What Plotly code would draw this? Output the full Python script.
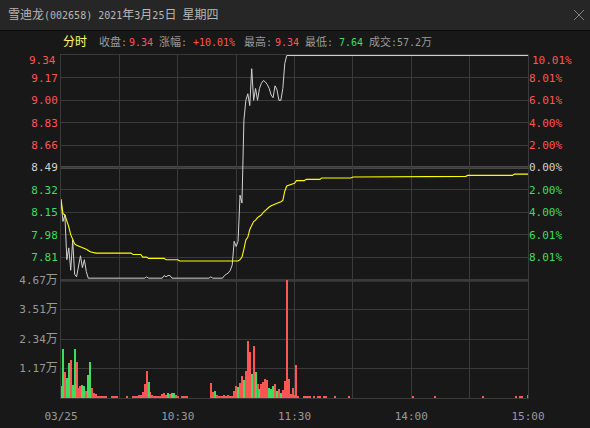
import plotly.graph_objects as go

# ---------------- data ----------------
PREV_CLOSE = 8.49

# minute index (0 = 09:30, 120 = 11:30/13:00, 240 = 15:00) -> last price
price_t = [0, 1, 2, 3, 4, 5, 6, 7, 8, 9, 10, 11, 12, 13, 14,
           43, 44, 45, 52, 53, 54, 55, 56, 57, 76, 77, 78,
           83, 84, 85, 86, 87, 88, 89, 90, 91, 92, 93, 94, 95, 96, 97, 98, 99, 100,
           101, 102, 103, 104, 105, 106, 107, 108, 109, 110, 111, 112, 113, 114, 115, 116, 240]
price_v = [8.24, 8.08, 8.13, 7.79, 7.88, 7.71, 7.94, 7.68, 7.66, 7.74, 7.82, 7.73, 7.79, 7.70, 7.65,
           7.65, 7.66, 7.65, 7.65, 7.67, 7.66, 7.67, 7.67, 7.65, 7.65, 7.66, 7.65,
           7.65, 7.67, 7.68, 7.69, 7.71, 7.75, 7.93, 7.89, 7.93, 8.28, 8.22, 8.85, 9.00, 9.05, 8.96, 9.24, 9.00, 9.09,
           9.00, 9.09, 9.13, 9.15, 9.14, 9.12, 9.09, 9.04, 9.02, 9.11, 9.08, 9.00, 9.00, 9.09, 9.28, 9.34, 9.34]

# average price line
avg_t = [0, 1, 2, 3, 4, 5, 6, 7, 8, 10, 12, 13, 14, 15, 18, 36, 37, 41, 42, 44, 45, 53, 54, 60, 61, 77, 78, 90,
         91, 92, 93, 94, 95, 96, 97, 98, 99, 100, 101, 102, 103, 104, 105, 106, 107, 108, 109, 110, 111, 112,
         113, 114, 115, 116, 118, 120, 121, 125, 126, 133, 134, 149, 150, 179, 180, 208, 209, 232, 233, 240]
avg_v = [8.25, 8.14, 8.13, 8.09, 8.04, 7.98, 7.94, 7.91, 7.90, 7.89, 7.88, 7.87, 7.86, 7.85, 7.84, 7.84, 7.83, 7.83,
         7.81, 7.81, 7.80, 7.80, 7.79, 7.79, 7.78, 7.78, 7.775, 7.775,
         7.78, 7.79, 7.81, 7.87, 7.94, 7.96, 8.02, 8.05, 8.08, 8.09, 8.11, 8.12, 8.13, 8.15, 8.165, 8.175, 8.19,
         8.20, 8.205, 8.21, 8.215, 8.225, 8.23, 8.24, 8.31, 8.35, 8.36, 8.37, 8.39, 8.39, 8.40, 8.40, 8.41, 8.41,
         8.418, 8.418, 8.423, 8.423, 8.43, 8.43, 8.44, 8.44]

# volume per minute (shares), 1 = up (red), 0 = down (green)
vol_t = [0, 1, 2, 3, 4, 5, 6, 7, 8, 9, 10, 11, 12, 13, 14, 15, 16, 17, 18, 19, 20, 21, 22, 23,
         26, 27, 28, 29, 34, 37, 38, 39, 40, 41, 42, 43, 44, 45, 46, 47, 48, 49, 50, 51, 52, 53, 54,
         55, 56, 57, 58, 59, 60, 62, 63, 64, 65, 77, 78, 79, 80, 81, 82, 83, 84, 85, 86, 87, 88,
         89, 90, 91, 92, 93, 94, 95, 96, 97, 98, 99, 100, 101, 102, 103, 104, 105, 106, 107, 108,
         109, 110, 111, 112, 113, 114, 115, 116, 117, 118, 119, 120, 121, 122, 125, 126, 127, 128,
         130, 132, 133, 135, 136, 141, 148, 181, 192, 217, 234, 236, 237, 240]
vol_v = [4750, 19400, 10400, 8000, 14000, 15000, 5150, 19400, 14300, 4000, 4750, 5150, 4750, 2800, 9100, 14300,
         3950, 2000, 1580, 800, 400, 400, 400, 400,
         400, 400, 400, 400, 400, 790, 400, 790, 1190, 1190, 2370, 5540, 10700, 6330, 2370, 1190, 790, 400, 790,
         790, 1580, 1980, 1190,
         1980, 1580, 1980, 1980, 1190, 400, 400, 400, 400, 790, 5940, 2370, 2770, 1190, 400, 400, 790, 1190, 790,
         1190, 790, 400,
         2770, 4750, 4350, 6070, 8700, 7120, 10700, 22560, 18200, 9500, 20700, 10300, 5540, 3560, 5540, 6460, 7520,
         7120, 3960, 3560,
         4750, 5540, 2640, 3560, 1850, 3170, 6730, 46700, 7520, 1580, 3960, 1320, 13060, 400, 400, 400, 400, 790,
         400, 400, 790, 400, 400, 400, 400, 400, 400, 400, 790, 400, 920, 1190]
vol_up = [0, 0, 1, 0, 0, 1, 0, 0, 1, 1, 1, 0, 0, 1, 0, 0, 1, 1, 1, 1, 1, 1, 1, 1,
          1, 1, 1, 1, 1, 1, 1, 1, 1, 1, 1, 1, 1, 0, 1, 1, 1, 1, 1, 1, 1, 1, 1,
          0, 1, 0, 0, 1, 1, 1, 1, 1, 1, 1, 1, 0, 1, 1, 1, 1, 1, 1, 1, 1, 1,
          1, 1, 0, 1, 1, 0, 1, 1, 1, 0, 1, 0, 1, 0, 1, 1, 1, 1, 0, 0,
          0, 1, 0, 1, 0, 1, 1, 1, 1, 1, 1, 1, 1, 1, 1, 1, 1, 1,
          1, 1, 1, 1, 1, 1, 1, 1, 1, 1, 1, 1, 1, 1]

price_ticks = [7.81, 7.98, 8.15, 8.32, 8.49, 8.66, 8.83, 9.00, 9.17]
pct_labels = ["8.01%", "6.01%", "4.00%", "2.00%", "0.00%", "2.00%", "4.00%", "6.01%", "8.01%"]
TOP_PRICE, TOP_PCT = 9.34, "10.01%"
BOTTOM_PRICE = 7.64
vol_ticks = [11675, 23350, 35025, 46700]
vol_labels = ["1.17", "2.34", "3.51", "4.67"]
time_ticks = [0, 30, 60, 90, 120, 150, 180, 210, 240]
time_labels = ["03/25", "", "10:30", "", "11:30", "", "14:00", "", "15:00"]

TITLE_NAME, TITLE_CODE = "雪迪龙", "(002658)"
info_items = [("分时", "yellow"), ("收盘:", "gray"), ("9.34", "red"), ("涨幅:", "gray"), ("+10.01%", "red"),
              ("最高:", "gray"), ("9.34", "red"), ("最低:", "gray"), ("7.64", "green"), ("成交:57.2万", "gray")]

assert len(price_t) == len(price_v) and len(avg_t) == len(avg_v)
assert len(vol_t) == len(vol_v) == len(vol_up)

# ---------------- style ----------------
W, H = 590, 428
L, R, T, B = 61, 528, 55, 398
SPLIT = 280
BG = "#181818"
BAR_BG = "#262626"
GRID = "#3a3a3a"
THICK = "#484848"
RED = "#ff5555"
GREEN = "#40dc60"
WHITE = "#d2d2d2"
GRAY = "#9a9a9a"
YELLOW = "#ffff00"
MONO = "DejaVu Sans Mono, Noto Sans CJK SC"
COLORS = {"yellow": "#ffff70", "gray": "#9a9a9a", "red": RED, "green": GREEN}


def px2x(px):
    return (px - L) / (R - L)


def py2y(py):
    return (B - py) / (B - T)


def cjk(s, size):
    return '<span style="font-size:%dpx">%s</span>' % (size, s)


def pcolor(v):
    if abs(v - PREV_CLOSE) < 1e-9:
        return WHITE
    return RED if v > PREV_CLOSE else GREEN


def colored(text, color):
    return '<span style="color:%s">%s</span>' % (color, text)


vol_dom = (B - SPLIT) / (B - T)
pad = 0.004

fig = go.Figure()
fig.add_trace(go.Bar(x=vol_t, y=vol_v, width=0.5, yaxis="y2",
                     marker=dict(color=[RED if u else GREEN for u in vol_up], line=dict(width=0)),
                     hoverinfo="skip"))
fig.add_trace(go.Scatter(x=price_t, y=price_v, mode="lines", yaxis="y",
                         line=dict(color=WHITE, width=1), hoverinfo="skip"))
fig.add_trace(go.Scatter(x=avg_t, y=avg_v, mode="lines", yaxis="y3",
                         line=dict(color=YELLOW, width=1.1), hoverinfo="skip"))

axis_common = dict(showgrid=True, gridcolor=GRID, gridwidth=1, zeroline=False, automargin=False,
                   showline=True, linecolor=GRID, linewidth=1, fixedrange=True)

fig.update_layout(
    width=W, height=H, margin=dict(l=L, r=W - R, t=T, b=H - B, autoexpand=False),
    paper_bgcolor=BG, plot_bgcolor=BG, showlegend=False, bargap=0,
    font=dict(family=MONO, size=10, color=GRAY),
    xaxis=dict(domain=[0, 1], range=[0, 240], anchor="y2", tickvals=time_ticks, ticktext=time_labels,
               ticks="outside", ticklen=8, tickcolor="rgba(0,0,0,0)", tickfont=dict(size=11, color=GRAY),
               mirror="all", **axis_common),
    yaxis=dict(domain=[vol_dom, 1], range=[BOTTOM_PRICE - pad, TOP_PRICE + pad], anchor="x",
               tickvals=price_ticks, ticktext=[colored("%.2f" % v, pcolor(v)) for v in price_ticks],
               tickfont=dict(size=11), mirror=True, **axis_common),
    yaxis2=dict(domain=[0, vol_dom], range=[0, vol_ticks[-1]], anchor="x",
                tickvals=vol_ticks, ticktext=[v + cjk("万", 12) for v in vol_labels],
                tickfont=dict(size=11, color=GRAY), mirror=True, **axis_common),
    yaxis3=dict(overlaying="y", side="right", range=[BOTTOM_PRICE - pad, TOP_PRICE + pad], anchor="x",
                tickvals=price_ticks, automargin=False,
                ticktext=[colored(t, pcolor(v)) for t, v in zip(pct_labels, price_ticks)],
                tickfont=dict(size=11), showgrid=False, zeroline=False, showline=False, fixedrange=True),
)

shapes = [
    # title bar
    dict(type="rect", xref="paper", yref="paper", x0=px2x(0), x1=px2x(W), y0=py2y(30), y1=py2y(0),
         fillcolor=BAR_BG, line=dict(width=0), layer="above"),
    dict(type="line", xref="paper", yref="paper", x0=px2x(0), x1=px2x(W), y0=py2y(30.5), y1=py2y(30.5),
         line=dict(color="#0c0c0c", width=1)),
    # close cross
    dict(type="line", xref="paper", yref="paper", x0=px2x(574), x1=px2x(584), y0=py2y(10), y1=py2y(20),
         line=dict(color="#808080", width=1)),
    dict(type="line", xref="paper", yref="paper", x0=px2x(574), x1=px2x(584), y0=py2y(20), y1=py2y(10),
         line=dict(color="#808080", width=1)),
    # previous close line & panel separator
    dict(type="line", xref="paper", yref="y", x0=0, x1=1, y0=PREV_CLOSE, y1=PREV_CLOSE,
         line=dict(color=THICK, width=3), layer="between"),
    dict(type="line", xref="paper", yref="y2", x0=0, x1=1, y0=vol_ticks[-1], y1=vol_ticks[-1],
         line=dict(color=THICK, width=3), layer="between"),
]
fig.update_layout(shapes=shapes)

title_html = (cjk(TITLE_NAME, 12) + TITLE_CODE + " 2021" + cjk("年", 12) + "3" + cjk("月", 12) + "25"
              + cjk("日", 12) + " " + cjk("星期四", 12))
annotations = [
    dict(xref="paper", yref="paper", x=px2x(6), y=py2y(15), xanchor="left", yanchor="middle",
         text=title_html, showarrow=False, font=dict(family=MONO, size=10, color="#b8b8b8")),
    # top labels (shifted down as in the original)
    dict(xref="paper", yref="y", x=0, y=TOP_PRICE, xanchor="right", yanchor="middle", xshift=-3, yshift=-5,
         text="%.2f" % TOP_PRICE, showarrow=False, font=dict(family=MONO, size=11, color=RED)),
    dict(xref="paper", yref="y", x=1, y=TOP_PRICE, xanchor="left", yanchor="middle", xshift=2, yshift=-5,
         text=TOP_PCT, showarrow=False, font=dict(family=MONO, size=11, color=RED)),
]
info_px = [61, 96.5, 127, 156.5, 190.5, 242, 273, 302.5, 336.5, 367]
for (txt, col), xp in zip(info_items, info_px):
    html = "".join(cjk(ch, 11) if ord(ch) > 0x2e80 else ch for ch in txt)
    if col == "yellow":
        html = cjk(txt, 12)
    annotations.append(dict(xref="paper", yref="paper", x=px2x(xp), y=py2y(42), xanchor="left",
                            yanchor="middle", text=html, showarrow=False,
                            font=dict(family=MONO, size=10, color=COLORS[col])))
fig.update_layout(annotations=annotations)

fig.write_html("out.html", config={"displayModeBar": False},
               post_script="document.body.style.margin='0';document.body.style.background='%s';" % BG)
